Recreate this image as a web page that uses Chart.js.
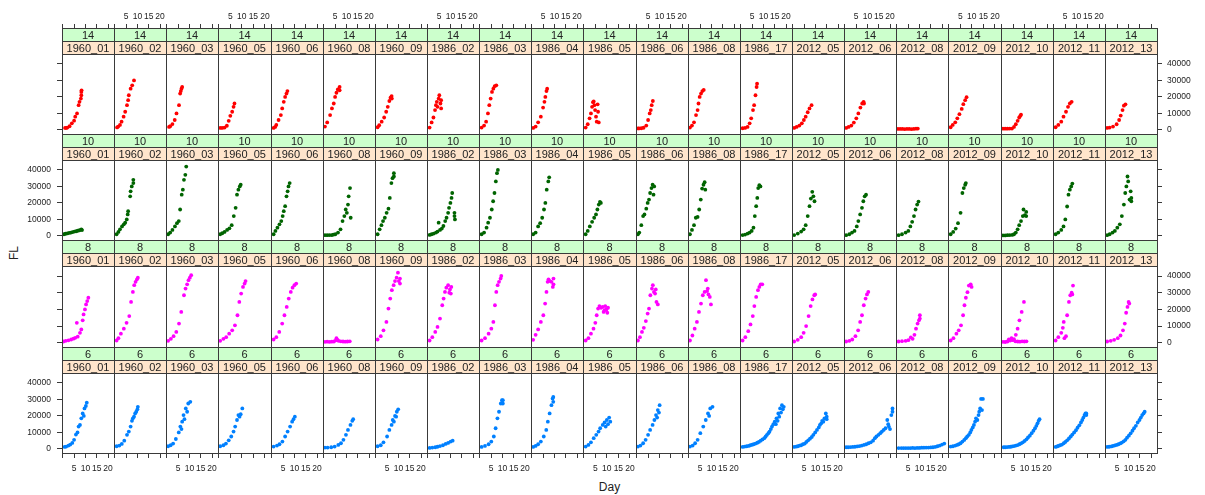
<!DOCTYPE html>
<html>
<head>
<meta charset="utf-8">
<script src="https://cdn.jsdelivr.net/npm/chart.js@4.4.1/dist/chart.umd.min.js"></script>
<style>
  body { margin: 0; background: #fff; }
  #wrap { position: relative; width: 1205px; height: 495px; overflow: hidden; background: #fff;
          font-family: "Liberation Sans", Arial, sans-serif; }
  #wrap canvas { position: absolute; }
  .title { position: absolute; font-size: 12px; color: #222; line-height: 14px; }
</style>
</head>
<body>
<div id="wrap">
  <div class="title" style="left:0; width:1219px; top:480px; text-align:center;">Day</div>
  <div class="title" style="left:2px; top:246px; transform:rotate(-90deg); transform-origin:center; width:24px; text-align:center;">FL</div>
</div>
<script>
// panel conditions
const sites = ['1960_01', '1960_02', '1960_03', '1960_05', '1960_06', '1960_08', '1960_09',
  '1986_02', '1986_03', '1986_04', '1986_05', '1986_06', '1986_08', '1986_17',
  '2012_05', '2012_06', '2012_08', '2012_09', '2012_10', '2012_11', '2012_13'];
const temps = ['14', '10', '8', '6'];
const dayTicks = [0, 5, 10, 15, 20];
const flTicks = [0, 10000, 20000, 30000, 40000];

// [Day, FL], one list per site, same order as sites
const fl14 = [
  [[1,1200],[1.5,1200],[2,1400],[3,2200],[4,4000],[5,5600],[5.5,8000],[6.3,10000],[7,15000],[7.4,17000],[8,19000],[8.2,21000],[8.2,23000],[8.3,24000]],
  [[1,1500],[1.5,2000],[2.3,3000],[3,5000],[3.9,8000],[4.6,11000],[5.4,15000],[5.9,18000],[6.2,21000],[7,25000],[7.7,27000],[8.5,30000]],
  [[1,1800],[1.5,2200],[2.5,3500],[3.5,6000],[4.3,10000],[5.4,15000],[5.9,22000],[6.2,23500],[6.5,25000],[6.8,26000]],
  [[0.6,1200],[1.5,1200],[2.5,1400],[3.5,2500],[4.3,5500],[5,8500],[5.8,11000],[6.4,14000],[6.8,16000]],
  [[0.8,1200],[1.5,1800],[2,3000],[3,6000],[4,9000],[4.6,13000],[5.3,17000],[5.9,20000],[6.5,22000],[6.9,23500]],
  [[0.5,2000],[1.5,4500],[2.8,9000],[3.6,13000],[4.4,16000],[5,20000],[5.6,22500],[6.2,24500],[7,26000],[7,24000]],
  [[0.8,1600],[1.5,2800],[2.6,5000],[3.7,7500],[4.6,11000],[5.3,14000],[6,17500],[6.5,19500],[7,20500],[7.1,19000]],
  [[0.8,1400],[1.7,4500],[2.5,7500],[3.2,12000],[3.6,15000],[4,17000],[4.3,14000],[4.8,19000],[5.1,21000],[5.6,16000],[5.9,13000],[5.9,18000]],
  [[0.8,1400],[1.9,2600],[2.8,5000],[3.6,10000],[4.2,15000],[4.8,19000],[5.4,23000],[6,25000],[6.6,26500],[7.3,27000]],
  [[0.6,1200],[1.7,2000],[2.8,4600],[4,8000],[5,13500],[5.6,17000],[6,20000],[6.5,23500],[6.8,25000]],
  [[0.8,1400],[1.7,3400],[2.5,7000],[3.1,10000],[3.6,14000],[4,16800],[4.3,17200],[4.6,15000],[4.9,12000],[5.3,8000],[5.6,5000],[6,15500],[6.2,11000],[6.5,4500]],
  [[0.5,900],[1,900],[2,1000],[3,1300],[4.2,2600],[5,6000],[5.7,10000],[6.2,12000],[6.6,15000],[7.1,17500]],
  [[0.5,1400],[1.4,2600],[2.3,4600],[3.2,9000],[3.9,12000],[4.3,16000],[4.8,20000],[5.4,22000],[6,23500],[6.6,24200]],
  [[0.8,1000],[1.9,1200],[3,1800],[3.9,4000],[4.6,7000],[5.4,12000],[5.9,15000],[6.5,21000],[7,26000],[7.2,28000]],
  [[0.6,1200],[1.7,1800],[2.9,2600],[4,4000],[4.9,6000],[5.7,8000],[6.6,10700],[7.4,13000],[8.3,15000]],
  [[0.6,1200],[1.7,1800],[2.9,2600],[4,4400],[5.1,7000],[6,10000],[6.9,13500],[7.7,16000],[8.3,17000],[8.5,16000]],
  [[0.5,600],[1.5,600],[2.5,600],[3.5,500],[4.5,600],[5.5,600],[6.5,500],[7.5,600],[8.5,700],[9.3,800]],
  [[0.8,1600],[1.7,3000],[2.8,4600],[3.7,7000],[4.6,9500],[5.6,12700],[6.3,15600],[7.1,18000],[7.7,19800]],
  [[0.5,700],[1.5,700],[2.5,700],[3.5,800],[4.5,800],[5.4,1800],[6.2,3400],[7,5500],[7.7,7500],[8.2,8500],[8.5,9200]],
  [[0.8,1600],[2,3000],[3.3,5000],[4.3,8000],[5.4,11000],[6.3,14000],[7.1,16000],[7.9,17000]],
  [[0.6,1200],[1.7,1400],[3.2,2000],[4.8,3400],[5.9,6000],[6.6,8700],[7.4,12000],[8,14700],[8.7,15500]]
];

const fl10 = [
  [[0.5,1000],[1.2,1300],[2,1500],[2.8,1800],[3.6,2000],[4.3,2300],[5.1,2600],[5.9,2800],[6.6,3100],[7.4,3400],[8.2,4000],[8.5,3500]],
  [[0.8,1000],[1.6,2400],[2.3,4000],[3.2,5700],[4,7000],[4.6,8000],[5.3,10000],[5.7,13000],[5.9,15000],[6.8,24000],[7,27000],[7.5,30000],[8.2,34000],[8.2,32000]],
  [[0.6,1000],[1.5,2000],[2.5,3600],[3.6,5700],[4.5,7700],[5.3,9000],[5.9,16000],[6.6,25000],[7.1,28000],[7.6,34000],[8.2,37000],[8.6,42000]],
  [[0.6,1000],[1.5,1600],[2.5,2400],[3.6,3600],[4.6,4600],[5.6,6500],[6.5,12000],[7.3,17000],[7.9,25000],[8.5,28000],[9.1,30000],[9.5,31000]],
  [[0.8,1000],[1.6,3000],[2.5,5000],[3.4,7000],[4.2,9000],[4.8,12000],[5.3,15000],[5.9,18000],[6.5,24000],[7,27000],[7.4,30000],[7.9,32000]],
  [[0.5,400],[1.5,400],[2.5,500],[3.5,500],[4.2,700],[5.1,1000],[6.3,2000],[7.4,4000],[8.3,9000],[9.1,12000],[9.7,16000],[10.2,14000],[10.7,19000],[11,24000],[11.6,29000],[11.9,11000]],
  [[0.8,1000],[1.7,4000],[2.5,6500],[3.2,9000],[4,11000],[4.8,14000],[5.6,16500],[6.2,23000],[6.9,32000],[7.4,35000],[8,38000],[8,36000]],
  [[0.8,600],[1.7,1000],[2.6,1400],[3.6,2000],[4.3,2600],[4.8,8000],[5.4,3600],[6.2,4400],[6.9,6000],[7.7,9000],[8.3,11000],[9,14000],[9.4,17000],[10,20000],[10.5,23000],[10.8,26000],[11.8,14000],[12,10000],[11.8,12000]],
  [[0.8,1000],[1.9,2000],[3,5000],[3.7,8000],[4.5,11000],[5.3,16000],[5.9,21000],[6.5,26000],[7.1,33000],[7.6,38000],[8,40000]],
  [[0.6,1000],[1.7,2000],[2.8,5700],[3.7,7700],[4.6,11000],[5.4,16000],[6,20000],[6.6,28000],[7.3,33000],[7.7,35500]],
  [[0.8,1000],[1.7,3000],[2.6,5700],[3.6,8500],[4.5,11000],[5.3,13000],[5.9,16000],[6.5,19000],[7,20600],[7.4,20000]],
  [[0.5,1000],[1.1,2000],[2,6500],[2.8,12000],[3.4,13000],[4.2,16500],[4.8,20000],[5.4,22000],[5.9,26000],[6.5,29000],[7,31000],[7.4,25000],[7.7,30000]],
  [[0.5,1000],[1.4,3600],[2.3,6500],[3.1,11000],[3.9,11500],[4.6,16000],[5.3,22000],[5.9,28700],[6.5,31000],[7,32500],[7.3,28000]],
  [[0.8,500],[1.9,800],[3,1400],[3.9,2000],[4.8,3000],[5.6,5000],[6.2,12000],[6.8,18000],[7.3,23000],[7.7,29000],[8.2,30700],[8.7,30000]],
  [[0.6,500],[2.2,1400],[3.7,2600],[4.8,4000],[5.7,6500],[6.6,12000],[7.4,18000],[8,22600],[8.6,26700],[9.1,24000],[9.6,21000]],
  [[0.6,400],[2,1000],[3.2,2000],[4.3,3000],[5.3,5700],[6,9000],[6.8,13000],[7.6,17000],[8.2,21000],[8.8,24000],[9.4,25000]],
  [[0.8,400],[2.3,1000],[3.9,2000],[5.1,3000],[6,5700],[6.8,8500],[7.6,12000],[8.3,16000],[9,19000],[9.6,20800]],
  [[0.8,1000],[1.9,2400],[3,4400],[4,7700],[5.1,14000],[5.9,26000],[6.5,29000],[7.1,31000],[7.4,32000]],
  [[0.5,300],[1.5,300],[2.5,400],[3.5,500],[4.6,600],[5.4,1000],[6.2,2000],[7,4000],[7.7,6500],[8.5,9000],[9.3,12000],[9.6,16000],[10.2,12500],[10.8,14500],[10.8,12000]],
  [[0.8,1000],[2,2000],[3.3,3600],[4.3,5700],[5.1,10000],[5.9,17800],[6.5,25000],[7.1,28000],[7.7,30000],[8.2,31700]],
  [[0.6,400],[1.7,1000],[3,2000],[4,3000],[5.1,5000],[6.2,7000],[7.1,12000],[8,19000],[8.6,26000],[9.1,30000],[9.6,36000],[9.9,33000],[10.5,22000],[11,27000],[11.3,23000],[11.3,21000]]
];

const fl8 = [
  [[0.3,800],[1.3,1200],[2.5,1500],[3.7,2000],[4.7,2500],[5.5,3000],[6.2,12000],[6.6,3700],[7.6,6000],[8.2,8000],[8.8,13500],[9.2,17000],[9.8,20000],[10.3,23000],[10.8,25000],[11.3,27000]],
  [[0.8,1400],[1.6,2800],[2.7,5500],[4,8500],[5.2,12000],[6.4,16000],[7.2,24500],[8,30500],[8.6,34500],[9.2,36500],[9.8,38000],[10.2,39000]],
  [[0.6,1200],[1.8,2400],[3,4000],[4.2,6500],[5.4,11500],[6.4,18500],[7.6,28500],[8.3,32500],[9,35000],[9.6,37500],[10.2,39000],[10.8,40500]],
  [[0.6,1200],[2,2400],[3.2,3400],[4.5,5500],[5.8,7500],[7,10500],[8.1,16500],[8.9,24500],[9.7,29500],[10.5,33500],[11.2,35500],[11.6,37000]],
  [[0.8,2000],[2,3400],[3.3,6500],[4.6,11500],[5.6,16500],[6.6,21500],[7.5,26500],[8.4,30500],[9.2,33000],[10,34500],[10.8,35500]],
  [[0.5,600],[1.5,700],[2.5,600],[3.5,700],[4.5,800],[5.3,1500],[5.6,2800],[6.1,1800],[6.5,1200],[7.5,900],[8.5,800],[9.5,700],[10.5,800],[11.5,900]],
  [[0.8,2000],[2.2,4000],[3.4,7500],[4.7,12500],[5.6,20500],[6.4,26500],[7.1,31500],[7.9,34500],[8.5,37000],[9.2,39000],[9.8,42000],[10.2,37000],[10.7,38500],[10.7,35500]],
  [[0.8,1400],[2,3400],[3.3,6500],[4.3,9500],[5.4,14500],[6.4,22500],[7,26500],[7.6,30500],[8.2,33000],[9,34500],[9.5,30000],[9.8,32000],[10.2,29500],[10.4,33500]],
  [[0.8,1400],[2.3,2800],[3.9,5500],[5.1,8500],[6,12500],[6.7,22500],[7.3,30500],[7.9,34500],[8.5,36500],[9.2,38500],[9.5,40000]],
  [[0.6,1800],[1.7,4800],[2.8,8000],[4,12500],[5.1,16500],[5.9,23500],[6.5,30500],[7,36500],[7.4,38000],[8,37000],[8.7,36500],[9.3,33500],[9.6,35000],[9.6,38500]],
  [[0.8,1400],[2,2800],[3.1,5500],[4.2,8500],[5,12000],[5.6,16500],[6.2,20500],[6.8,22000],[7.5,21000],[8.2,21500],[8.6,18500],[9,19500],[9.3,22000],[9.8,20000],[10.2,18000],[10.5,21000]],
  [[0.5,1400],[1.4,3400],[2.3,6500],[3.1,9000],[4,13000],[4.8,17500],[5.4,20500],[6,28500],[6.7,32500],[7.1,34500],[7.6,30500],[8.1,29500],[8.4,32000],[8.7,24500],[9.3,23000]],
  [[0.5,1400],[1.6,4400],[2.6,8500],[3.6,12500],[4.5,18500],[5.4,23500],[6.2,28500],[7,30500],[7.6,37500],[8.1,31000],[8.4,32500],[8.7,29000],[9.3,27500],[9.8,23000]],
  [[0.8,1400],[2,3400],[3.3,7000],[4.3,11000],[5.3,16000],[6,22000],[6.8,27500],[7.6,31500],[8.2,33500],[8.8,35000],[9.5,35000]],
  [[0.6,800],[2.2,1800],[3.7,3400],[4.8,6000],[5.9,10000],[7,16000],[7.9,22000],[8.7,26000],[9.5,28500],[9.9,29000]],
  [[0.6,800],[2,1200],[3.3,2000],[4.7,4000],[5.9,7500],[6.8,12500],[7.6,16500],[8.4,22500],[9.2,26500],[9.8,29000],[10.4,30500]],
  [[0.8,800],[2.3,1000],[3.9,1200],[5.1,1600],[6.2,3200],[7,2400],[7.8,4800],[8.5,8500],[9.2,11500],[9.8,13500],[10.2,16500],[10.2,14500]],
  [[0.8,1400],[2,2800],[3.3,5500],[4.3,7500],[5.3,10500],[6.2,16500],[6.8,22500],[7.4,27000],[8.1,30300],[8.7,34300],[9.5,35000],[9.9,33500]],
  [[0.5,600],[1.5,500],[2.5,800],[3.1,2000],[3.7,1400],[4.3,2800],[4.8,1600],[5.4,2200],[6.2,4800],[7,8500],[7.8,13500],[8.8,18500],[9.8,24500],[6,900],[7,800],[8,700],[9,900],[10,800],[10.9,900]],
  [[0.8,1400],[2,3400],[3.3,6000],[4,9000],[4.4,12500],[4.7,2800],[5.4,4000],[5.9,16500],[6.7,24500],[7.3,28500],[7.9,30000],[8.2,29000],[8.5,34300]],
  [[0.6,800],[2.2,1200],[3.7,1800],[5.3,2800],[6.5,4400],[7.6,7500],[8.4,11500],[9,18000],[9.6,21500],[10.1,24500],[10.4,23500]]
];

const fl6 = [
  [[0.8,1200],[1.5,1400],[2.5,2000],[3.3,2600],[4.2,3600],[5,5500],[5.8,8700],[6.5,10000],[7,13500],[7.6,14500],[8.2,18500],[8.8,21500],[9.3,20000],[9.6,24500],[10.2,26000],[10.6,28000]],
  [[0.8,1600],[2,2000],[3.1,3000],[4.2,5000],[5.4,8500],[6.2,10500],[7,13500],[7.6,17000],[8,18500],[8.5,19500],[9,21500],[9.5,22500],[10,24000],[10.2,25500]],
  [[0.6,1600],[1.7,2200],[2.8,3200],[4,6000],[5.3,10000],[6,13500],[6.5,12000],[6.8,16500],[7.4,20500],[7.8,18000],[8.4,24500],[9,22500],[9.5,27500],[10.4,28500]],
  [[0.6,1600],[2,2200],[3.1,3200],[4.3,5200],[5.4,7500],[6.4,10500],[7.1,13500],[7.9,17500],[8.5,20500],[9,19500],[9.5,21000],[10.2,24500]],
  [[0.8,1400],[2.3,2000],[3.4,2800],[4.7,4400],[5.9,7500],[7,10500],[8.1,13500],[9,16500],[9.6,18000],[10.2,19500]],
  [[0.5,800],[1.7,800],[3.3,1000],[4.8,1400],[6.4,2400],[7.6,3400],[8.7,5500],[9.8,8500],[10.7,11500],[11.8,14500],[12.6,17000],[13,18000]],
  [[0.8,1600],[2.2,2200],[3.4,4000],[5,7500],[6,11500],[7,14500],[7.5,17500],[8,16500],[8.5,20000],[9,19500],[9.3,22500],[9.9,24000]],
  [[0.8,600],[2,800],[3.3,1000],[4.3,1300],[5.4,1700],[6.7,2200],[7.9,3000],[9,3600],[10.1,4400],[11,5000]],
  [[0.8,1200],[2.3,1800],[3.9,2800],[5.1,4400],[6.2,7500],[7,12500],[7.8,18500],[8.5,22500],[9.3,27500],[9.8,29500],[10.2,27500],[10.2,29500]],
  [[0.6,1200],[1.7,1800],[2.8,2800],[4,4400],[5.3,7500],[6.4,11500],[7.1,16500],[7.9,21500],[8.7,26500],[9.2,30500],[9.5,28500],[9.5,31500]],
  [[0.8,1400],[2,2400],[3.1,4000],[4.3,6500],[5.4,8500],[6.4,10500],[7.1,12500],[8.2,14500],[9,16000],[9.5,13500],[10,17500],[10.5,15000],[11,19000],[11.5,16500]],
  [[0.5,1400],[1.6,2000],[2.8,3400],[3.9,5500],[5,8500],[5.9,11500],[7,14500],[7.8,17500],[8.5,20500],[9,19000],[9.3,23500],[9.8,22000],[10.1,26500]],
  [[0.5,1400],[1.7,2000],[2.8,3400],[3.9,5500],[5.1,9500],[6.4,13500],[7.5,17500],[8.5,21500],[9,20000],[9.5,24500],[10.5,25500]],
  [[0.8,1200],[1.7,1400],[2.6,1600],[3.5,1800],[4.2,2200],[5,2500],[5.7,2800],[6.5,3200],[7.3,3700],[8,4200],[8.8,5000],[9.6,5700],[10.4,6500],[11,7500],[11.6,8500],[12.2,9500],[12.7,10500],[13.3,12000],[13.8,13500],[14.4,15000],[15,16500],[15.5,15000],[15.8,18500],[16.3,17000],[16.6,21500],[17,19500],[17.4,24500],[17.8,22000],[18.2,26500],[18.6,24000],[19,25500]],
  [[0.6,1200],[1.5,1400],[2.2,1600],[3,2000],[3.7,2200],[4.5,2800],[5.3,3200],[6,4200],[6.8,5200],[7.6,6200],[8.4,7200],[9.1,8500],[9.9,10000],[10.7,11500],[11.5,13000],[12,14500],[12.6,15500],[13,17000],[13.5,16500],[14,18500],[14.6,21500],[15,19500],[15,18000]],
  [[0.6,1000],[1.5,1000],[2.5,1100],[3.5,1200],[4.5,1300],[5.5,1500],[6.5,1700],[7.5,2000],[8.5,2400],[9.5,2800],[10.5,3400],[11.5,4000],[12.5,5000],[13.3,6500],[14,7500],[14.9,8500],[15.7,9500],[16.4,10500],[17.2,11500],[18,12500],[18.8,17500],[19.2,15000],[19.5,13500],[20,12000],[20.6,20500],[21.1,24500],[21.1,22500]],
  [[0.8,500],[2,500],[3,500],[4,500],[5,500],[6,500],[7,600],[8,500],[9,600],[10,600],[11,700],[12,700],[13,800],[14,800],[15,900],[16,1000],[17,1200],[18,1600],[19,2000],[20,2600],[21,3200]],
  [[0.8,1400],[1.8,1600],[2.8,2000],[3.6,2400],[4.3,2800],[5.1,3400],[5.9,4400],[6.7,5400],[7.4,6500],[8,7500],[8.7,8500],[9.3,10000],[9.8,11500],[10.4,13000],[10.9,14500],[11.4,16500],[11.8,18500],[12.4,17500],[12.9,20500],[13.2,22500],[13.6,24500],[14,30300],[14.4,23500],[14.8,30300]],
  [[0.8,1000],[1.5,1000],[2.3,1100],[3.1,1200],[3.9,1300],[4.6,1500],[5.4,1700],[6.2,2000],[7,2300],[7.8,2800],[8.5,3300],[9.3,4000],[10.1,4800],[10.9,5800],[11.6,6900],[12.4,8000],[13.2,9500],[14,11000],[14.7,12500],[15.3,14000],[15.8,15500],[16.3,17000],[16.7,18000]],
  [[0.8,1200],[1.5,1500],[2,1800],[2.8,2200],[3.6,2600],[4.4,3400],[5.1,4200],[5.9,5200],[6.7,6300],[7.5,7500],[8.2,8700],[9,10000],[9.8,11300],[10.5,12800],[11.3,14300],[12,16000],[12.6,17500],[13.1,19000],[13.6,20500],[14,21500],[14.4,21500],[14.4,20500]],
  [[0.6,1200],[1.5,1300],[2.5,1500],[3.2,1800],[4,2100],[4.8,2400],[5.6,2800],[6.4,3300],[7.1,3800],[7.9,4600],[8.7,5500],[9.4,6800],[10.2,8000],[11,9400],[11.8,11000],[12.5,12500],[13.3,14000],[14.1,16000],[14.9,17500],[15.5,19000],[16.1,20500],[16.7,21500],[17.2,22500]]
];

const rows = [fl14, fl10, fl8, fl6];
const pointColors = ['#ff0000', '#006400', '#ff00ff', '#0080ff'];

// layout of the lattice (page pixels)
const X_MIN = -0.35, X_MAX = 22.65;
const Y_MIN = -2500, Y_MAX = 46000;
const LINE = '#3a3a3a';
const colX = i => Math.round(62 + i * 52.14);
const rowTop = [28, 134, 240, 347];
const rowBottom = [134, 240, 347, 453];
const STRIP = 13;

Chart.defaults.font.family = '"Liberation Sans", Arial, sans-serif';
Chart.defaults.font.size = 8.5;
Chart.defaults.color = '#222';

const stripPlugin = {
  id: 'strips',
  afterDraw(chart, args, opts) {
    const { ctx, chartArea: a } = chart;
    const w = a.right - a.left;
    ctx.save();
    ctx.lineWidth = 1;
    ctx.strokeStyle = LINE;
    ctx.font = '11px "Liberation Sans", Arial, sans-serif';
    ctx.textAlign = 'center';
    ctx.textBaseline = 'middle';
    [[opts.temp, '#ccffcc', a.top - 2 * STRIP], [opts.site, '#ffe5cc', a.top - STRIP]].forEach(([txt, fill, y]) => {
      ctx.fillStyle = fill;
      ctx.fillRect(a.left, y, w, STRIP);
      ctx.strokeRect(a.left + 0.5, y + 0.5, w, STRIP);
      ctx.fillStyle = '#222';
      ctx.fillText(txt, a.left + w / 2, y + STRIP / 2 + 1);
    });
    ctx.strokeRect(a.left + 0.5, a.top + 0.5, w, a.bottom - a.top);
    ctx.restore();
  }
};

function xScale(pos, show, labels) {
  const s = {
    type: 'linear', position: pos, display: show, min: X_MIN, max: X_MAX,
    afterBuildTicks: sc => { sc.ticks = dayTicks.map(v => ({ value: v })); },
    ticks: { display: labels, autoSkip: false, maxRotation: 0, padding: pos === 'top' ? 2 : 6,
             callback: v => (v === 0 ? '' : String(v)) },
    grid: { drawOnChartArea: false, tickLength: pos === 'top' ? 30 : 5, color: LINE },
    border: { display: false }
  };
  if (show) s.afterFit = sc => {
    sc.height = pos === 'top' ? 54 : 30;
    sc.paddingLeft = sc.paddingRight = sc.paddingTop = sc.paddingBottom = 0;
  };
  return s;
}

function yScale(pos, show, labels) {
  const s = {
    type: 'linear', position: pos, display: show, min: Y_MIN, max: Y_MAX,
    afterBuildTicks: sc => { sc.ticks = flTicks.map(v => ({ value: v })); },
    ticks: { display: labels, padding: pos === 'left' ? 6 : 5, callback: v => String(v) },
    grid: { drawOnChartArea: false, tickLength: 5, color: LINE },
    border: { display: false }
  };
  if (show) s.afterFit = sc => {
    sc.width = pos === 'left' ? 40 : 45;
    sc.paddingLeft = sc.paddingRight = sc.paddingTop = sc.paddingBottom = 0;
  };
  return s;
}

const wrap = document.getElementById('wrap');

rows.forEach((rowData, r) => {
  sites.forEach((site, c) => {
    const left0 = c === 0 ? 0 : colX(c);
    const right0 = c === sites.length - 1 ? 1205 : colX(c + 1) + 1;
    const top0 = r === 0 ? 0 : rowTop[r];
    const bottom0 = r === 3 ? 495 : rowBottom[r] + 1;

    const canvas = document.createElement('canvas');
    canvas.width = right0 - left0;
    canvas.height = bottom0 - top0;
    canvas.style.left = left0 + 'px';
    canvas.style.top = top0 + 'px';
    canvas.style.width = canvas.width + 'px';
    canvas.style.height = canvas.height + 'px';
    wrap.appendChild(canvas);

    const last = c === sites.length - 1;
    new Chart(canvas, {
      type: 'scatter',
      data: {
        datasets: [{
          data: rowData[c].map(p => ({ x: p[0], y: p[1] })),
          backgroundColor: pointColors[r],
          borderWidth: 0,
          pointRadius: 1.9,
          pointHoverRadius: 1.9
        }]
      },
      options: {
        responsive: false,
        animation: false,
        devicePixelRatio: 1,
        events: [],
        layout: {
          autoPadding: false,
          padding: {
            left: c === 0 ? 62 - 40 : 0,
            right: last ? 1205 - colX(21) - 45 : 1,
            top: r === 0 ? 0 : 2 * STRIP,
            bottom: r === 3 ? 495 - rowBottom[3] - 30 : 1
          }
        },
        plugins: {
          legend: { display: false },
          tooltip: { enabled: false },
          strips: { temp: temps[r], site: site }
        },
        scales: {
          x: xScale(r === 0 ? 'top' : 'bottom', r === 0 || r === 3,
                    r === 0 ? c % 2 === 1 : c % 2 === 0),
          y: yScale(last ? 'right' : 'left', c === 0 || last,
                    last ? r % 2 === 0 : r % 2 === 1)
        }
      },
      plugins: [stripPlugin]
    });
  });
});
</script>
</body>
</html>
